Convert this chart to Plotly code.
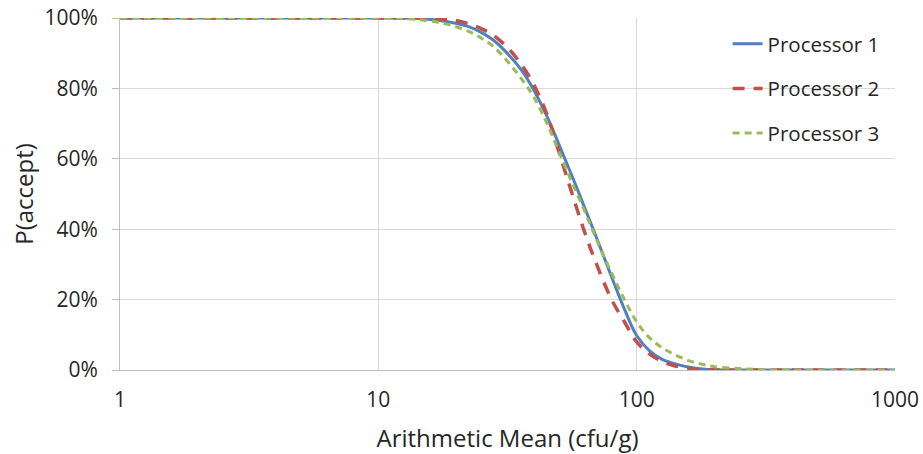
import plotly.graph_objects as go

# Arithmetic mean (cfu/g)
x_vals = [1, 2, 5, 10, 12, 14, 16, 18, 20, 22.5, 25, 28, 32, 36, 40, 45, 50, 56, 63,
          70, 80, 90, 100, 112, 125, 140, 160, 180, 200, 250, 300, 500, 1000]

# P(accept), fractions
processor1 = [1, 1, 1, 1, 1, 0.999, 0.996, 0.991, 0.985, 0.975, 0.959, 0.936, 0.895, 0.85, 0.795,
              0.72, 0.641, 0.554, 0.46, 0.375, 0.264, 0.17, 0.098, 0.055, 0.031, 0.018, 0.008,
              0.003, 0.001, 0, 0, 0, 0]
processor2 = [1, 1, 1, 1, 1, 1, 0.999, 0.997, 0.993, 0.983, 0.970, 0.950, 0.912, 0.865, 0.81,
              0.725, 0.62, 0.505, 0.39, 0.30, 0.20, 0.135, 0.08, 0.046, 0.025, 0.012, 0.005,
              0.0015, 0.0005, 0, 0, 0, 0]
processor3 = [1, 1, 1, 1, 0.999, 0.996, 0.991, 0.984, 0.975, 0.961, 0.943, 0.918, 0.872, 0.825,
              0.775, 0.70, 0.62, 0.535, 0.45, 0.37, 0.275, 0.198, 0.137, 0.092, 0.064, 0.044, 0.026,
              0.016, 0.0095, 0.004, 0.0015, 0, 0]

series_names = ["Processor 1", "Processor 2", "Processor 3"]
x_tick_vals = [1, 10, 100, 1000]
x_tick_text = ["1", "10", "100", "1000"]
y_tick_vals = [0, 0.2, 0.4, 0.6, 0.8, 1.0]

FONT = "'Open Sans', sans-serif"
TEXT = "#262626"

fig = go.Figure()
fig.add_trace(go.Scatter(x=x_vals, y=processor1, name=series_names[0], mode="lines",
                         legendgroup="a",
                         line=dict(color="#4F81BD", width=3, dash="solid", shape="spline")))
fig.add_trace(go.Scatter(x=x_vals, y=processor2, name=series_names[1], mode="lines",
                         legendgroup="b",
                         line=dict(color="#C0504D", width=3.5, dash="12px,9px", shape="spline")))
fig.add_trace(go.Scatter(x=x_vals, y=processor3, name=series_names[2], mode="lines",
                         legendgroup="c",
                         line=dict(color="#9BBB59", width=3, dash="7px,5px", shape="spline")))

fig.update_layout(
    width=923, height=454,
    margin=dict(l=120, r=28, t=18, b=84),
    paper_bgcolor="white", plot_bgcolor="white",
    font=dict(family=FONT, size=21, color=TEXT),
    showlegend=True,
    legend=dict(x=0.784, y=0.983, xanchor="left", yanchor="top",
                bgcolor="rgba(255,255,255,0)", font=dict(size=20.5, color=TEXT),
                tracegroupgap=15),
    xaxis=dict(type="log", range=[0, 3], tickvals=x_tick_vals, ticktext=x_tick_text,
               showgrid=True, gridcolor="#D9D9D9", gridwidth=1,
               showline=True, linecolor="#BFBFBF", linewidth=1, mirror=False,
               ticks="", ticklabelstandoff=11, automargin=False,
               tickfont=dict(size=21),
               title=dict(text="Arithmetic Mean (cfu/g)", font=dict(size=24, color=TEXT),
                          standoff=22),
               zeroline=False),
    yaxis=dict(range=[0, 1], tickvals=y_tick_vals, tickformat=".0%",
               showgrid=True, gridcolor="#D9D9D9", gridwidth=1,
               showline=True, linecolor="#BFBFBF", linewidth=1,
               ticks="outside", ticklen=7, tickcolor="#BFBFBF",
               ticklabelstandoff=10, automargin=False,
               tickfont=dict(size=21),
               title=dict(text="P(accept)", font=dict(size=24, color=TEXT), standoff=4),
               zeroline=False),
)

fig.write_html("out.html")
